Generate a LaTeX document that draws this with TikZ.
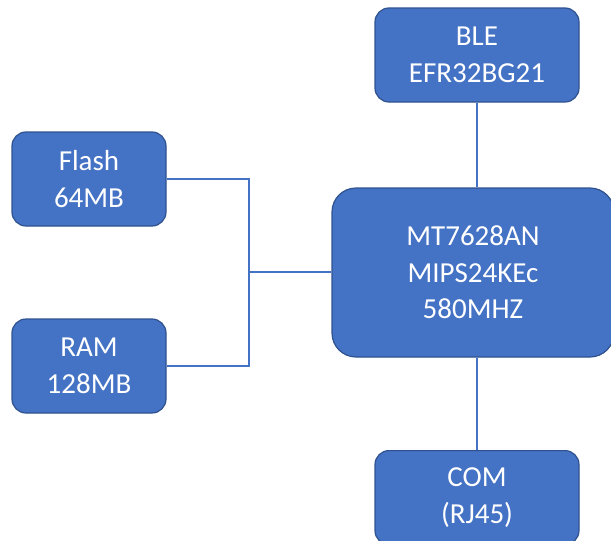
\documentclass[tikz,border=0pt]{standalone}
\usepackage{fontspec}
\setmainfont{Carlito}
\definecolor{boxfill}{HTML}{4472C4}
\definecolor{boxline}{HTML}{2F528F}
\definecolor{wire}{HTML}{4472C4}
\begin{document}
\begin{tikzpicture}[x=1pt,y=-1pt,
  blk/.style={draw=boxline, line width=1.2pt, fill=boxfill, rounded corners=14pt,
    text=white, align=center, inner sep=0pt,
    font=\fontsize{29}{36.6}\selectfont},
  wireline/.style={draw=wire, line width=1.3pt}]
\useasboundingbox (0,0) rectangle (611,541);
\node[blk, minimum width=204pt, minimum height=94pt] (ble) at (477,55) {BLE\\EFR32BG21};
\node[blk, minimum width=154pt, minimum height=94pt] (flash) at (89,179) {Flash\\64MB};
\node[blk, minimum width=154pt, minimum height=94pt] (ram) at (89,366) {RAM\\128MB};
\node[blk, minimum width=282pt, minimum height=169pt, rounded corners=24pt] (mcu) at (473,272.5) {MT7628AN\\MIPS24KEc\\580MHZ};
\node[blk, minimum width=204pt, minimum height=94pt, anchor=north] (com) at (477,450) {COM\\(RJ45)};
\coordinate (bus) at (249,272);
\draw[wireline] (flash.east) -| (bus);
\draw[wireline] (ram.east) -| (bus);
\draw[wireline] (bus) -- (bus -| mcu.west);
\draw[wireline] (ble.south) -- (ble.south |- mcu.north);
\draw[wireline] (mcu.south -| com.north) -- (com.north);
\end{tikzpicture}
\end{document}
